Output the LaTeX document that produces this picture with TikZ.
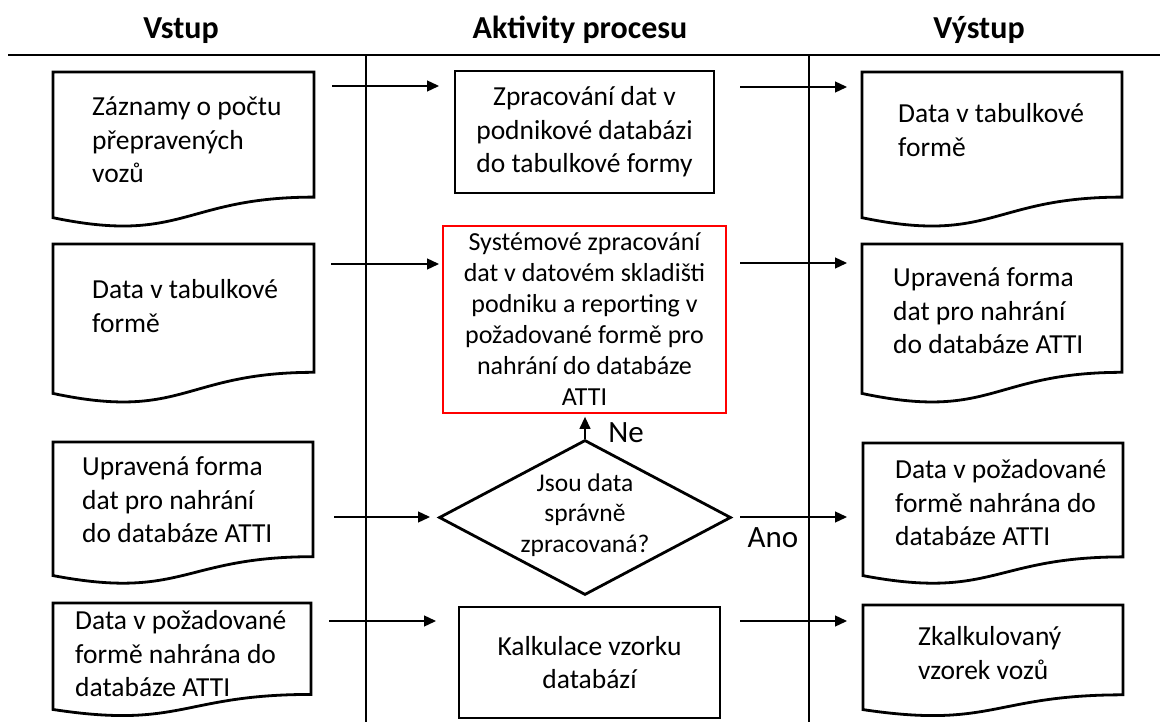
\documentclass[tikz,border=0pt]{standalone}
\usepackage{fontspec}
\setmainfont{Carlito}
\usetikzlibrary{arrows.meta,shapes.geometric}

% document symbol: outline with wavy bottom, plus its left-aligned text
% #1 name, #2 x, #3 y, #4 width, #5 height, #6 text x, #7 text y, #8 text
\newcommand\docsymbol[8]{%
  \draw[shapeline] (#2,#3) -- ({#2+#4},#3) -- ({#2+#4},{#3+0.802*#5})
    .. controls ({#2+0.5*#4},{#3+0.802*#5}) and ({#2+0.5*#4},{#3+1.1075*#5})
    .. (#2,{#3+0.934*#5}) -- cycle;
  \node[doctext] (#1) at (#6,#7) {#8};
}

\begin{document}
\begin{tikzpicture}[x=1pt,y=-1pt,
  lane/.style={line width=1.2pt,black},
  shapeline/.style={line width=2.8pt,black,line join=miter},
  doctext/.style={align=left,inner sep=0pt,anchor=west,
    font=\fontsize{27.5}{33.5}\selectfont},
  procbox/.style={draw,line width=2.8pt,align=center,inner sep=0pt,
    font=\fontsize{27.5}{33.5}\selectfont},
  redbox/.style={draw=red,line width=2.8pt,align=center,inner sep=0pt,
    font=\fontsize{26}{31}\selectfont},
  decision/.style={draw,diamond,line width=2.8pt,inner sep=0pt},
  dectext/.style={align=center,inner sep=0pt,font=\fontsize{25.5}{30.5}\selectfont},
  head/.style={font=\bfseries\fontsize{32}{38}\selectfont,anchor=base,inner sep=0pt},
  lbl/.style={font=\fontsize{31}{37}\selectfont,inner sep=0pt},
  arr/.style={line width=1.3pt,-{Triangle[length=12pt,width=11pt]}}
]
\useasboundingbox (0,0) rectangle (1160,722);

% column headings and lane lines
\node[head] (hin)  at (181,39) {Vstup};
\node[head] (hact) at (580,39) {Aktivity procesu};
\node[head] (hout) at (979,39) {Výstup};
\draw[lane] (8,55) -- (1160,55);
\draw[lane] (366,55) -- (366,722);
\draw[lane] (809,55) -- (809,722);

% inputs
\docsymbol{in1}{53}{72}{261}{156}{92}{140}{Záznamy o počtu\\přepravených\\vozů}
\docsymbol{in2}{53}{244}{261}{160}{92}{306}{Data v tabulkové\\formě}
\docsymbol{in3}{53}{442}{260}{143}{82}{500}{Upravená forma\\dat pro nahrání\\do databáze ATTI}
\docsymbol{in4}{53}{603}{258}{114}{75}{654}{Data v požadované\\formě nahrána do\\databáze ATTI}

% outputs
\docsymbol{out1}{862}{72}{260}{156}{898}{130}{Data v tabulkové\\formě}
\docsymbol{out2}{862}{244}{260}{160}{893}{311}{Upravená forma\\dat pro nahrání\\do databáze ATTI}
\docsymbol{out3}{863}{443}{260}{142}{895}{503}{Data v požadované\\formě nahrána do\\databáze ATTI}
\docsymbol{out4}{863}{605}{260}{112}{918}{653}{Zkalkulovaný\\vzorek vozů}

% process activities
\node[procbox,minimum width=259pt,minimum height=122pt] (p1) at (584.5,132)
  {Zpracování dat v\\podnikové databázi\\do tabulkové formy};
\node[redbox,minimum width=283pt,minimum height=187pt] (p2) at (584.5,319.5)
  {Systémové zpracování\\dat v datovém skladišti\\podniku a reporting v\\požadované formě pro\\nahrání do databáze\\ATTI};
\node[decision,minimum width=292pt,minimum height=155pt] (dec) at (585,517.5) {};
\node[dectext] (dect) at (585,515) {Jsou data\\správně\\zpracovaná?};
\node[procbox,minimum width=261pt,minimum height=111pt] (p3) at (589.5,662.5)
  {Kalkulace vzorku\\databází};

% connector ends
\coordinate (a1s) at (332,86);  \coordinate (a1e) at (439,86);
\coordinate (a2s) at (331,264); \coordinate (a2e) at (439,264);
\coordinate (a3s) at (334,517); \coordinate (a3e) at (430,517);
\coordinate (a4s) at (329,621); \coordinate (a4e) at (436,621);
\coordinate (b1s) at (740,87);  \coordinate (b1e) at (847,87);
\coordinate (b2s) at (740,263); \coordinate (b2e) at (847,263);
\coordinate (b3s) at (740,517); \coordinate (b3e) at (847,517);
\coordinate (b4s) at (740,621); \coordinate (b4e) at (847,621);

\draw[arr] (a1s) -- (a1e);
\draw[arr] (a2s) -- (a2e);
\draw[arr] (a3s) -- (a3e);
\draw[arr] (a4s) -- (a4e);
\draw[arr] (b1s) -- (b1e);
\draw[arr] (b2s) -- (b2e);
\draw[arr] (b3s) -- (b3e);
\draw[arr] (b4s) -- (b4e);
\draw[arr,shorten >=2.5pt] (dec.north) -- (dec.north |- p2.south);

% decision labels
\node[lbl] (ne)  at (626,433) {Ne};
\node[lbl] (ano) at (773,538) {Ano};
\end{tikzpicture}
\end{document}
